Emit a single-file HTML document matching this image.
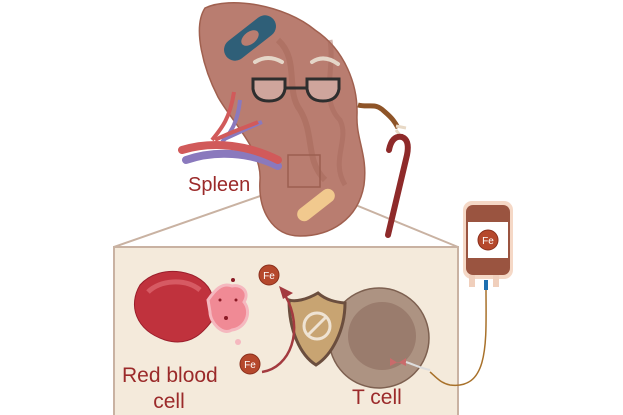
<!DOCTYPE html>
<html><head><meta charset="utf-8"><style>
html,body{margin:0;padding:0;background:#fff;width:623px;height:415px;overflow:hidden}
svg{display:block}
text{font-family:"Liberation Sans",sans-serif}
</style></head><body>
<svg width="623" height="415" viewBox="0 0 623 415">
<rect x="114" y="247" width="344" height="175" fill="#f4eadb" stroke="#c9b2a2" stroke-width="2"/>
<line x1="114" y1="247" x2="286" y2="187" stroke="#c9b2a2" stroke-width="2"/>
<line x1="458" y1="247" x2="324" y2="192" stroke="#c9b2a2" stroke-width="2"/>
<!-- spleen -->
<path d="M205,8 C230,-4 285,5 315,30 C345,50 358,85 357,115 C356,140 368,155 364,185 C358,220 330,236 300,236 C272,236 258,210 260,180 C262,150 232,122 218,97 C204,70 192,28 205,8 Z" fill="#b97d70" stroke="#a0604f" stroke-width="1.5"/>
<path d="M278,40 C300,60 285,90 300,110 C315,135 305,160 325,180" fill="none" stroke="#a86a5c" stroke-width="6" opacity=".6"/>
<path d="M330,40 C335,70 320,100 340,120 C350,140 330,160 345,185" fill="none" stroke="#a86a5c" stroke-width="5" opacity=".5"/>
<rect x="288" y="155" width="32" height="32" fill="none" stroke="#9c5f50" stroke-width="1.5"/>
<g transform="translate(250,38) rotate(-38)"><rect x="-30" y="-11" width="60" height="22" rx="11" fill="#2f5f78"/><ellipse cx="0" cy="0" rx="10" ry="6" fill="#b97d70"/></g>
<g transform="translate(316,205) rotate(-38)"><rect x="-22" y="-7" width="44" height="14" rx="7" fill="#f1c98e"/></g>
<path d="M255,62 Q268,54 282,62" fill="none" stroke="#e5d6c8" stroke-width="4" stroke-linecap="round"/>
<path d="M312,62 Q324,54 338,64" fill="none" stroke="#e5d6c8" stroke-width="4" stroke-linecap="round"/>
<path d="M253,79 h32 v10 q-2,12 -16,12 q-14,0 -16,-12 Z" fill="#cfa59c" stroke="#2e2e2e" stroke-width="3"/>
<path d="M307,79 h32 v10 q-2,12 -16,12 q-14,0 -16,-12 Z" fill="#cfa59c" stroke="#2e2e2e" stroke-width="3"/>
<line x1="285" y1="88" x2="307" y2="88" stroke="#2e2e2e" stroke-width="3"/>
<!-- vessels -->
<path d="M234,92 C230,118 222,128 212,140" fill="none" stroke="#d15a5a" stroke-width="4"/>
<path d="M240,100 C238,120 232,132 222,142" fill="none" stroke="#8a79bd" stroke-width="4"/>
<path d="M222,140 C240,132 252,126 262,122" fill="none" stroke="#8a79bd" stroke-width="4"/>
<path d="M215,140 C235,130 250,126 258,122" fill="none" stroke="#d15a5a" stroke-width="4"/>
<path d="M186,160 C215,150 250,152 278,166" fill="none" stroke="#8a79bd" stroke-width="8" stroke-linecap="round"/>
<path d="M182,150 C215,140 250,146 278,160" fill="none" stroke="#d15a5a" stroke-width="8" stroke-linecap="round"/>
<text x="188" y="191" font-size="20" fill="#9b2a2a">Spleen</text>
<path d="M358,105 C370,108 375,102 385,112 C392,118 395,122 398,128" fill="none" stroke="#8e5428" stroke-width="5"/>
<path d="M396,126 l10,2 M396,130 l6,8" stroke="#e8d9c6" stroke-width="3"/>
<path d="M389,150 Q392,135 402,137 Q410,140 407,155 L388,235" fill="none" stroke="#8e2a2a" stroke-width="6" stroke-linecap="round"/>
<!-- blood bag -->
<rect x="463" y="201" width="50" height="78" rx="9" fill="#f5d8c6"/>
<rect x="466" y="205" width="44" height="70" rx="7" fill="#9a5440"/>
<rect x="468" y="222" width="40" height="36" fill="#fff"/>
<circle cx="488" cy="240" r="10" fill="#b5482c" stroke="#8a2f1c"/>
<text x="488" y="244" font-size="10" fill="#fff" text-anchor="middle">Fe</text>
<rect x="469" y="275" width="6" height="12" fill="#f0cfbc"/><rect x="493" y="275" width="6" height="12" fill="#f0cfbc"/>
<rect x="484" y="280" width="4" height="10" fill="#1e6fb0"/>
<path d="M486,290 C486,340 490,390 450,385 C440,383 435,376 430,372" fill="none" stroke="#a8712a" stroke-width="1.5"/>
<!-- RBC -->
<path d="M212,295 C205,270 160,262 140,285 C128,305 135,330 165,340 C192,348 205,330 214,318 Z" fill="#c0323d" stroke="#9a1e2b" stroke-width="1"/>
<path d="M148,292 C160,280 185,278 200,290" fill="none" stroke="#d65a63" stroke-width="5"/>
<path d="M208,300 C215,290 222,282 232,286 C242,284 250,292 244,302 C252,312 246,328 232,330 C222,336 210,322 210,312 Z" fill="#f08a95" stroke="#f5b8bf" stroke-width="3"/>
<circle cx="233" cy="280" r="2" fill="#8a1a25"/><circle cx="238" cy="342" r="3" fill="#f5b8bf"/><circle cx="226" cy="318" r="2" fill="#8a1a25"/><circle cx="220" cy="300" r="1.5" fill="#8a1a25"/><circle cx="236" cy="300" r="1.5" fill="#8a1a25"/>
<text x="122" y="382" font-size="21" fill="#9b2a2a">Red blood</text>
<text x="169" y="408" font-size="21" fill="#9b2a2a" text-anchor="middle">cell</text>
<!-- T cell -->
<circle cx="379" cy="338" r="50" fill="#ad9382" stroke="#7d6050" stroke-width="1.5"/>
<circle cx="382" cy="336" r="34" fill="#9a7c6d"/>
<text x="352" y="404" font-size="21" fill="#9b2a2a">T cell</text>
<path d="M390,358 l8,5 l8,-5 v8 l-8,-4 l-8,4 Z" fill="#c96b6b"/>
<path d="M406,362 C415,365 420,368 430,370" fill="none" stroke="#ddd" stroke-width="2"/>
<!-- shield -->
<path d="M318,293 C306,300 295,302 289,300 C289,330 300,355 316,365 C332,355 345,330 345,303 C335,302 326,300 318,293 Z" fill="#c8a472" stroke="#6b4e3e" stroke-width="3"/>
<circle cx="317" cy="326" r="13" fill="none" stroke="#efe3d3" stroke-width="3"/>
<line x1="308" y1="335" x2="326" y2="317" stroke="#efe3d3" stroke-width="3"/>
<path d="M262,372 C290,368 305,330 285,295" fill="none" stroke="#a33a3f" stroke-width="2.5"/>
<path d="M279,286 l14,7 l-10,6 Z" fill="#a33a3f"/>
<circle cx="269" cy="275" r="10" fill="#b5482c" stroke="#8a2f1c"/>
<text x="269" y="279" font-size="10" fill="#fff" text-anchor="middle">Fe</text>
<circle cx="250" cy="364" r="10" fill="#b5482c" stroke="#8a2f1c"/>
<text x="250" y="368" font-size="10" fill="#fff" text-anchor="middle">Fe</text>
</svg>
</body></html>
